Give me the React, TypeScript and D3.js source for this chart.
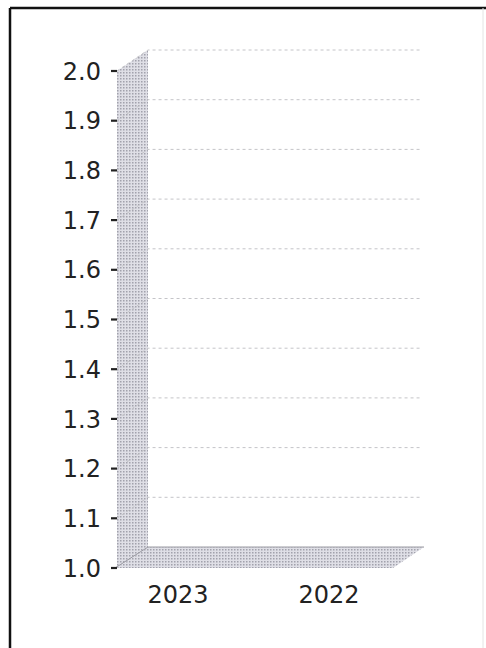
import * as d3 from 'd3'

// empty 3D category chart: two years, no bars drawn
const categories = ['2023', '2022']
const values: number[] = []
const yDomain = [1.0, 2.0]

const W = 486
const H = 648
const dx = 31 // 3d depth offset
const dy = 21

export default function App() {
  const y = d3.scaleLinear().domain(yDomain).range([568, 71])
  const x = d3.scalePoint<string>().domain(categories).range([117, 390]).padding(0.404)
  const x0 = 117
  const x1 = 393
  const ticks = y.ticks(10)
  const fmt = d3.format('.1f')
  const font = 'DejaVu Sans, Verdana, sans-serif'

  const wall = [
    [x0, y(yDomain[1])],
    [x0 + dx, y(yDomain[1]) - dy],
    [x0 + dx, y(yDomain[0]) - dy],
    [x0, y(yDomain[0])],
  ]
  const floor = [
    [x0, y(yDomain[0])],
    [x0 + dx, y(yDomain[0]) - dy],
    [x1 + dx, y(yDomain[0]) - dy],
    [x1, y(yDomain[0])],
  ]
  const pts = (p: number[][]) => p.map((d) => d.join(',')).join(' ')

  return (
    <div style={{ position: 'fixed', left: 0, top: 0 }}>
      <svg width={W} height={H} style={{ display: 'block', background: '#fff' }}>
        <defs>
          <pattern id="dots" width="3" height="3" patternUnits="userSpaceOnUse">
            <rect width="3" height="3" fill="#dfdfe6" />
            <rect width="1.5" height="1.5" fill="#a2a2ac" />
          </pattern>
        </defs>
        {/* chart border */}
        <line x1={10} y1={8} x2={W} y2={8} stroke="#111" strokeWidth={2.5} />
        <line x1={10} y1={8} x2={10} y2={H} stroke="#111" strokeWidth={2.5} />
        <line x1={483} y1={8} x2={483} y2={H} stroke="#e4e4e4" strokeWidth={1} />

        {/* 3d wall + floor */}
        <polygon points={pts(wall)} fill="url(#dots)" />
        <polygon points={pts(floor)} fill="url(#dots)" />
        <polyline
          points={pts([[x0 - 2, y(yDomain[0])], [x0 + dx, y(yDomain[0]) - dy], [x1 + dx, y(yDomain[0]) - dy]])}
          fill="none"
          stroke="#9a9aa2"
          strokeWidth={1}
        />

        {/* range gridlines across wall and back */}
        {ticks.slice(1).map((t) => (
          <polyline
            key={'g' + t}
            points={pts([[x0, y(t)], [x0 + dx, y(t) - dy], [x1 + dx - 3, y(t) - dy]])}
            fill="none"
            stroke="#c4c4c8"
            strokeWidth={1}
            strokeDasharray="3,3"
          />
        ))}

        {/* bars (none in this dataset) */}
        {values.map((v, i) => (
          <rect key={i} x={(x(categories[i]) ?? 0) - 20} y={y(v)} width={40} height={y(yDomain[0]) - y(v)} fill="#4572a7" />
        ))}

        {/* y axis */}
        {ticks.map((t) => (
          <g key={'t' + t}>
            <line x1={111} x2={117} y1={y(t)} y2={y(t)} stroke="#222" strokeWidth={2.2} />
            <text x={101} y={y(t)} dy="0.36em" textAnchor="end" fontFamily={font} fontSize={24} fill="#222">
              {fmt(t)}
            </text>
          </g>
        ))}

        {/* category labels */}
        {categories.map((c) => (
          <text key={c} x={x(c)} y={603} textAnchor="middle" fontFamily={font} fontSize={24} fill="#222">
            {c}
          </text>
        ))}
      </svg>
    </div>
  )
}
